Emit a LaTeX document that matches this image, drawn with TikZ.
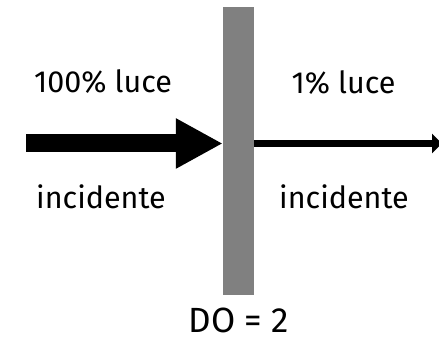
\documentclass[tikz,border=0pt]{standalone}
\usepackage{fontspec}
\setmainfont{Fira Sans}
\usetikzlibrary{arrows.meta}
\tikzset{
  lbl/.style={anchor=base, inner sep=0pt, font=\fontsize{30.5}{36}\selectfont},
  dolbl/.style={anchor=base, inner sep=0pt, font=\fontsize{35}{40}\selectfont},
  filter/.style={fill=black!50, draw=none, minimum width=31pt, minimum height=288pt, inner sep=0pt},
  bigarrow/.style={line width=18pt, -{Triangle[length=47pt,width=47pt]}},
  thinarrow/.style={line width=7pt, -{Triangle[length=10pt,width=19pt]}}
}
\begin{document}
\begin{tikzpicture}[x=1pt,y=1pt]
\useasboundingbox (0,0) rectangle (439,339);
\node[filter] (bar) at (238.5,188) {};
\coordinate (src) at (26,195.5);
\coordinate (dst) at (442,195.5);
\draw[bigarrow] (src) -- (bar.west |- src);
\draw[thinarrow] (bar.east |- dst) -- (dst);
\node[lbl] (t1) at (103,246) {100\% luce};
\node[lbl] (t2) at (101,130) {incidente};
\node[lbl] (t3) at (343.5,245) {1\% luce};
\node[lbl] (t4) at (344,130) {incidente};
\node[dolbl] (do) at (239,6) {DO = 2};
\end{tikzpicture}
\end{document}
